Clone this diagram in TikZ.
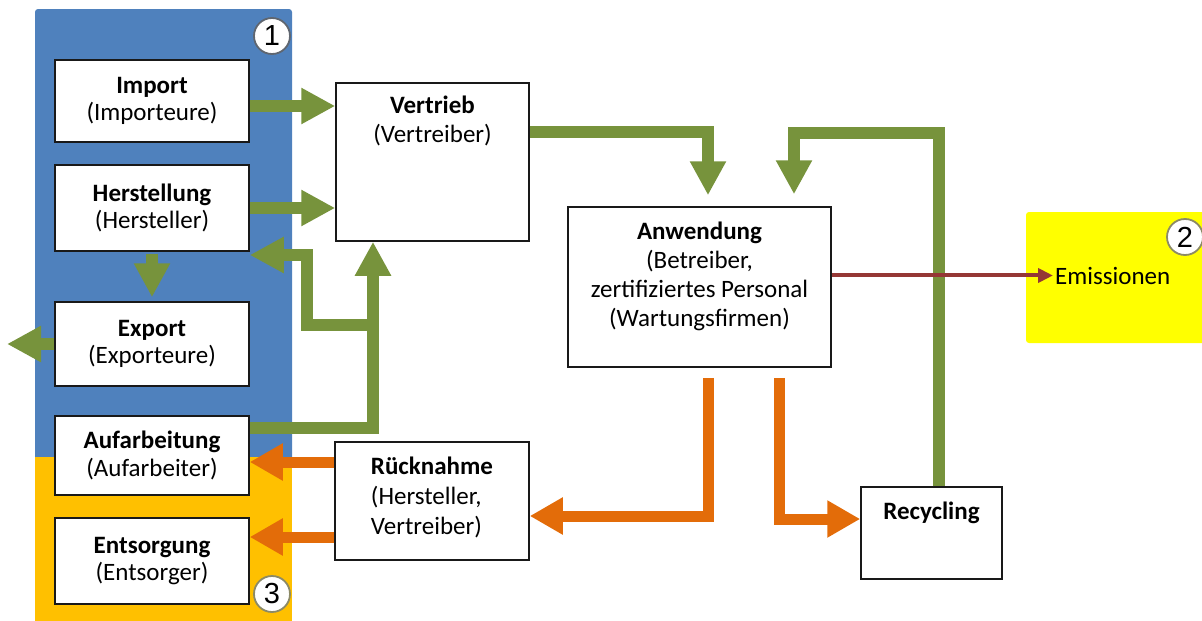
\documentclass[tikz,border=0pt]{standalone}
\usepackage{fontspec}
\setmainfont{Carlito}
\newfontfamily\numfont{Liberation Sans}
\usetikzlibrary{arrows.meta}
\definecolor{panelblue}{HTML}{4F81BD}
\definecolor{panelorange}{HTML}{FFC000}
\definecolor{flowgreen}{HTML}{77933C}
\definecolor{floworange}{HTML}{E36C09}
\definecolor{emisred}{HTML}{953735}
\definecolor{circleedge}{HTML}{8C8A66}
\definecolor{circleedgeA}{HTML}{5F6670}
\definecolor{emisyellow}{HTML}{FFFF00}
\begin{document}
\begin{tikzpicture}[x=1pt,y=-1pt,
  box/.style={draw=black!90, line width=1.5pt, fill=white, inner sep=0pt, align=center, font=\fontsize{25}{27.5}\selectfont},
  lbl/.style={align=center, font=\fontsize{25}{29}\selectfont, inner sep=0pt},
  num/.style={circle, draw=circleedge, line width=1.8pt, fill=white, minimum size=36pt, inner sep=0pt, font=\numfont\fontsize{29}{29}\selectfont},
  garrow/.style={draw=flowgreen, line width=12pt, -{Triangle[width=34pt,length=34pt]}},
  oarrow/.style={draw=floworange, line width=11pt, -{Triangle[width=35pt,length=33pt]}},
  earrow/.style={draw=emisred, line width=4pt, -{Triangle[width=14pt,length=15pt]}},
]
\useasboundingbox (0,0) rectangle (1202,621);

% panels
\fill[panelorange] (35,457) rectangle (292,621);
\fill[panelblue, rounded corners=3pt] (35,9) rectangle (292,470);
\fill[panelorange] (35,457) rectangle (292,480);
\fill[emisyellow, rounded corners=3pt] (1026,212) rectangle (1210,343);

% boxes
\node[box, minimum width=194pt, minimum height=82pt] (import) at (152,101) {\textbf{Import}\\(Importeure)};
\node[box, minimum width=194pt, minimum height=86pt] (herst) at (152,208) {\textbf{Herstellung}\\(Hersteller)};
\node[box, minimum width=194pt, minimum height=84pt] (export) at (152,344) {\textbf{Export}\\(Exporteure)};
\node[box, minimum width=194pt, minimum height=79pt] (aufarb) at (152,455.5) {\textbf{Aufarbeitung}\\(Aufarbeiter)};
\node[box, minimum width=194pt, minimum height=86pt] (entsorg) at (152,561) {\textbf{Entsorgung}\\(Entsorger)};

\node[box, minimum width=193pt, minimum height=158pt,
  label={[lbl, anchor=north, yshift=-14pt]north:{\textbf{Vertrieb}\\(Vertreiber)}}] (vertrieb) at (432.5,162) {};
\node[box, minimum width=263pt, minimum height=160pt,
  label={[lbl, anchor=north, yshift=-16pt]north:{\textbf{Anwendung}\\(Betreiber,\\zertifiziertes Personal\\(Wartungsfirmen)}}] (anwendung) at (699.5,287) {};
\node[box, minimum width=194pt, minimum height=118pt,
  label={[lbl, align=left, font=\fontsize{25}{30}\selectfont, yshift=4pt]center:{\textbf{Rücknahme}\\(Hersteller,\\Vertreiber)}}] (ruecknahme) at (432,501) {};
\node[box, minimum width=141pt, minimum height=92pt,
  label={[lbl, anchor=north, yshift=-16pt]north:{\textbf{Recycling}}}] (recycling) at (931.5,533) {};

\node[lbl, anchor=base west] (emis) at (1055,284) {Emissionen};

% numbered circles
\node[num, draw=circleedgeA] (n1) at (272,36) {1};
\node[num] (n2) at (1185,237) {2};
\node[num] (n3) at (272,594) {3};

% green flows
\coordinate (exportout) at (7,345);
\coordinate (j1) at (373,325);
\draw[garrow] (import.east |- 0,106) -- (vertrieb.west |- 0,106);
\draw[garrow] (herst.east) -- (vertrieb.west |- herst.east);
\draw[garrow, shorten <=2pt, shorten >=4pt] (herst.south) -- (export.north);
\draw[garrow] (export.west) -- (exportout |- export.west);
\draw[garrow] (aufarb.east |- 0,428) -| (vertrieb.south -| j1);
\draw[garrow] (j1) -| (307,255) -- (herst.east |- 0,255);
\draw[garrow, shorten >=11pt] (vertrieb.east |- 0,132) -| (anwendung.north -| 708,0);
\draw[garrow, shorten >=12pt] (recycling.north -| 939,0) |- (794,133) -- (anwendung.north -| 794,0);

% orange flows
\draw[oarrow, shorten <=10pt] (anwendung.south -| 708,0) |- (ruecknahme.east |- 0,516);
\draw[oarrow, shorten <=10pt] (anwendung.south -| 779,0) |- (recycling.west |- 0,519);
\draw[oarrow] (ruecknahme.west |- 0,462) -- (aufarb.east |- 0,462);
\draw[oarrow] (ruecknahme.west |- 0,537) -- (entsorg.east |- 0,537);

% emissions
\draw[earrow, shorten >=2pt] (anwendung.east |- emis.west) -- (emis.west);
\end{tikzpicture}
\end{document}
